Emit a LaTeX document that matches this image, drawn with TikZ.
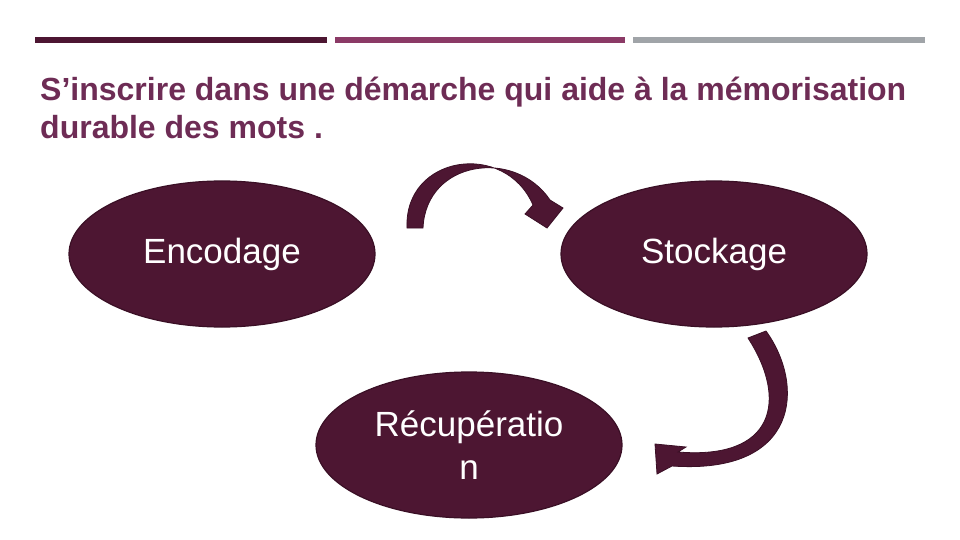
\documentclass[tikz,border=0pt]{standalone}
\usepackage{fontspec}
\setmainfont{Liberation Sans}
\usetikzlibrary{shapes.geometric}
\definecolor{plum}{HTML}{4D1632}
\definecolor{plumb}{HTML}{3A0F25}
\definecolor{mid}{HTML}{8B3A66}
\definecolor{grayb}{HTML}{A0A4A8}
\definecolor{titlec}{HTML}{6E2C55}
\begin{document}
\begin{tikzpicture}[x=1pt,y=-1pt,
  blob/.style={ellipse,fill=plum,draw=plumb,line width=1.2pt,minimum width=306pt,minimum height=146pt,inner sep=0pt,text=white,font=\fontsize{35}{43}\selectfont,align=center},
  barc/.style={line width=6pt},
  ttl/.style={anchor=base west,text=titlec,font=\bfseries\fontsize{32}{38}\selectfont,inner sep=0pt},
  blockarrow/.style={fill=plum,draw=plumb,line width=0.8pt}]
\useasboundingbox (0,0) rectangle (960,540);
\fill[white] (0,0) rectangle (960,540);
\draw[barc,plum] (35,40) -- (327,40);
\draw[barc,mid] (335,40) -- (625,40);
\draw[barc,grayb] (633,40) -- (925,40);
\node[ttl] (t1) at (40,101) {S’inscrire dans une démarche qui aide à la mémorisation};
\node[ttl] (t2) at (40,139) {durable des mots .};
\node[blob] (enc) at (222,254) {Encodage};
\node[blob] (sto) at (714,254) {Stockage};
\node[blob] (rec) at (469,445) {Récupératio\\n};
\fill[blockarrow] (407,228) .. controls (404,155) and (505,140) .. (533,205)
  -- (525,214) -- (547,228) -- (563,208) -- (550,200)
  .. controls (515,148) and (426,160) .. (423,228) -- cycle;
\fill[blockarrow] (748,338) -- (766,331) .. controls (805,385) and (800,475) .. (672,466)
  -- (657,474) -- (655,444) -- (686,447) -- (678,452)
  .. controls (775,460) and (788,400) .. (748,338) -- cycle;
\end{tikzpicture}
\end{document}
